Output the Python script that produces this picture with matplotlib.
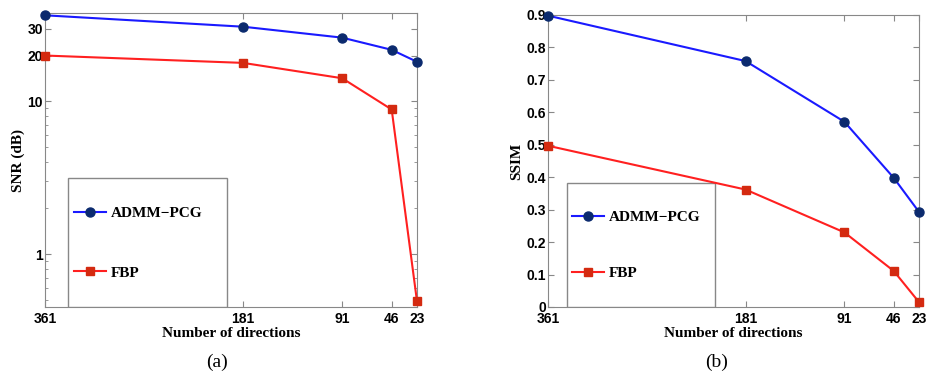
import matplotlib
matplotlib.use("Agg")
import matplotlib.pyplot as plt
from matplotlib.patches import Rectangle

# datos
directions = [361, 181, 91, 46, 23]
snr_admm = [36.7, 30.9, 26.2, 21.8, 18.2]
snr_fbp = [20.0, 17.9, 14.2, 8.86, 0.49]
ssim_admm = [0.898, 0.758, 0.571, 0.398, 0.293]
ssim_fbp = [0.497, 0.362, 0.230, 0.111, 0.015]
ssim_ticks = [0, 0.1, 0.2, 0.3, 0.4, 0.5, 0.6, 0.7, 0.8, 0.9]
snr_ticks = [1, 10, 20, 30]

W, H = 929, 375
fig = plt.figure(figsize=(W / 100, H / 100), dpi=100)

ax1 = fig.add_axes([45 / W, 1 - 307 / H, 372 / W, 294 / H])
ax2 = fig.add_axes([548 / W, 1 - 307 / H, 371 / W, 292 / H])

tick_font = dict(family="Liberation Sans", weight="bold", size=10)
label_font = dict(family="Liberation Serif", weight="bold", size=11)
leg_font = dict(family="Liberation Serif", weight="bold", size=11)

def dibujar(ax, y1, y2):
    ax.plot(directions, y1, "-o", color="#1a1aff", lw=1.5, ms=6.5,
            mfc="#0b2a6e", mec="#0b2a6e", label="ADMM\u2212PCG", clip_on=False,
            zorder=6)
    ax.plot(directions, y2, "-s", color="#ff2020", lw=1.5, ms=5.5,
            mfc="#d42a10", mec="#d42a10", label="FBP", clip_on=False,
            zorder=6)
    ax.set_xlim(361, 23)
    ax.set_xticks(directions)
    ax.set_xticklabels([str(d) for d in directions], fontdict=tick_font)
    ax.tick_params(axis="x", pad=3.5)
    ax.tick_params(axis="y", pad=1.5)
    ax.tick_params(direction="in", top=True, right=True, length=4,
                   color="#888888")
    ax.tick_params(which="minor", direction="in", right=True, length=2,
                   color="#888888")
    for s in ax.spines.values():
        s.set_color("#888888")
    ax.set_xlabel("Number of directions", fontdict=label_font, labelpad=1)

dibujar(ax1, snr_admm, snr_fbp)
ax1.set_yscale("log")
ax1.set_ylim(0.45, 38)
ax1.set_yticks(snr_ticks)
ax1.set_yticklabels([str(t) for t in snr_ticks], fontdict=tick_font)
ax1.set_ylabel("SNR (dB)", fontdict=label_font, labelpad=2)

dibujar(ax2, ssim_admm, ssim_fbp)
ax2.set_ylim(0, 0.9)
ax2.set_yticks(ssim_ticks)
ax2.set_yticklabels([("%g" % t) for t in ssim_ticks], fontdict=tick_font)
ax2.set_ylabel("SSIM", fontdict=label_font, labelpad=2)

# leyendas: caja aparte + entradas sin marco
for ax, bx, bw, bh, hx, yc, sp in [(ax1, 0.061, 0.428, 0.439, 0.078, 0.218, 3.0),
                                   (ax2, 0.050, 0.400, 0.425, 0.065, 0.211, 2.8)]:
    ax.add_patch(Rectangle((bx, 0), bw, bh, transform=ax.transAxes,
                           facecolor="white", edgecolor="#888888", lw=1.0,
                           zorder=4))
    ax.legend(loc="center left", bbox_to_anchor=(hx, yc), prop=leg_font,
              frameon=False, borderpad=0, borderaxespad=0, labelspacing=sp,
              handlelength=2.1, handletextpad=0.3)

fig.text(217 / W, 1 - 362 / H, "(a)", ha="center", va="center",
         family="Liberation Serif", size=14)
fig.text(717 / W, 1 - 362 / H, "(b)", ha="center", va="center",
         family="Liberation Serif", size=14)

fig.savefig("out.png", dpi=100)
